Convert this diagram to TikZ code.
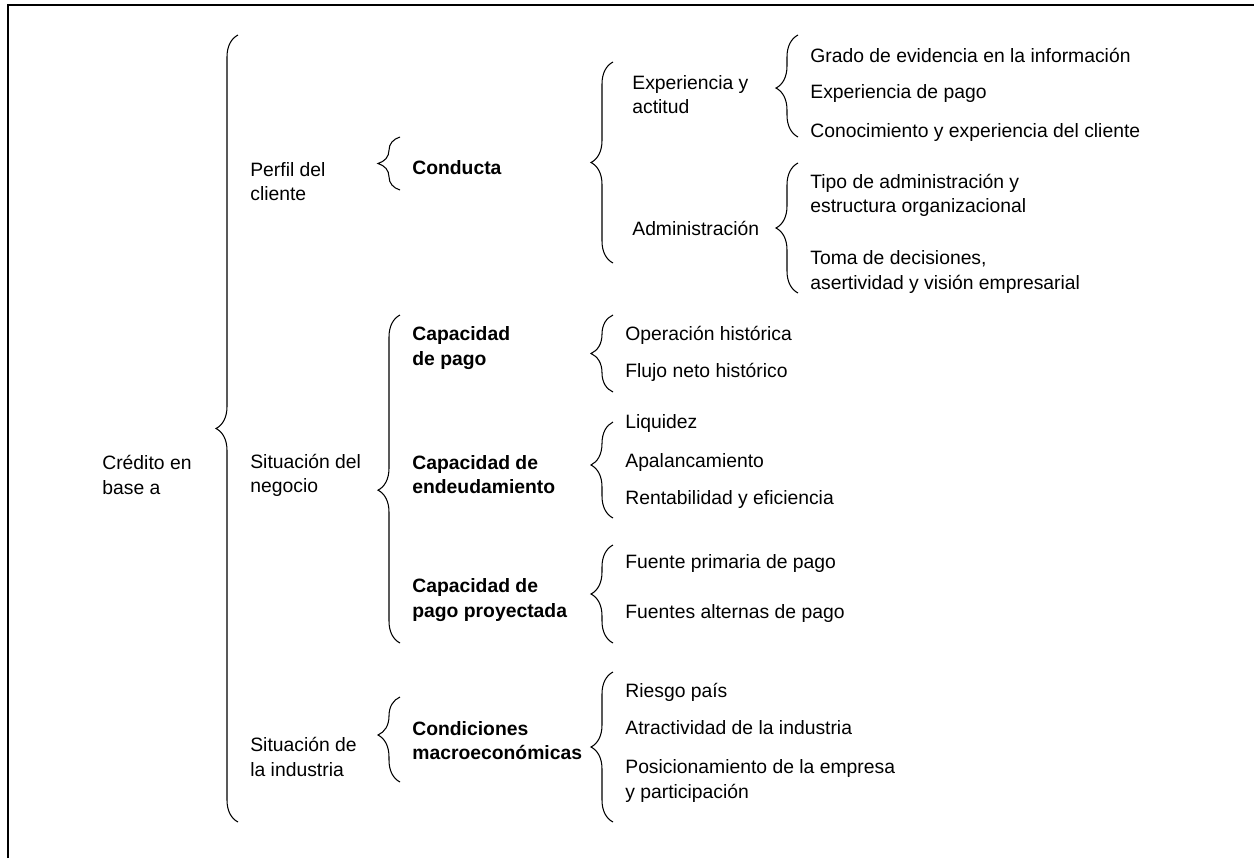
\documentclass[tikz,border=0pt]{standalone}
\usepackage{fontspec}
\setmainfont{Liberation Sans}
\usetikzlibrary{decorations.pathreplacing}

\begin{document}
\begin{tikzpicture}[
  x=0.2mm, y=-0.2mm,
  item/.style={anchor=west, align=left, inner sep=0pt, font=\fontsize{11}{13.7}\selectfont},
  keyitem/.style={item, font=\fontsize{11}{13.7}\selectfont\bfseries},
  bracket/.style={decorate, decoration={brace, amplitude=0.44cm, aspect=#1}, line width=0.6pt},
  bracket/.default=0.5,
  frame/.style={line width=1.7pt}
]

\useasboundingbox (0,0) rectangle (1254,858);

% open frame (top and left edge only)
\draw[frame] (8,858) -- (8,5) -- (1254,5);

% --- FIRST LEVEL ---
\node[item] (credito) at (102,475) {Crédito en\\base a};
\node[item] (perfil) at (250,182) {Perfil del\\cliente};
\node[item] (negocio) at (250,475) {Situación del\\negocio};
\node[item] (industria) at (250,757) {Situación de\\la industria};

% --- SECOND LEVEL (bold) ---
\node[keyitem] (conducta) at (412,168) {Conducta};
\node[keyitem] (cappago) at (412,348) {Capacidad\\de pago};
\node[keyitem] (capend) at (412,475) {Capacidad de\\endeudamiento};
\node[keyitem] (capproy) at (412,600) {Capacidad de\\pago proyectada};
\node[keyitem] (macro) at (412,741) {Condiciones\\macroeconómicas};

% --- THIRD LEVEL ---
\node[item] (expact) at (632,95) {Experiencia y\\actitud};
\node[item] (admin) at (632,228) {Administración};

\foreach \txt/\y [count=\i] in {Operación histórica/335, Flujo neto histórico/372} {
  \node[item] (pago\i) at (625,\y) {\txt};
}
\foreach \txt/\y [count=\i] in {Liquidez/423, Apalancamiento/462, Rentabilidad y eficiencia/499} {
  \node[item] (deuda\i) at (625,\y) {\txt};
}
\foreach \txt/\y [count=\i] in {Fuente primaria de pago/563, Fuentes alternas de pago/613} {
  \node[item] (fuente\i) at (625,\y) {\txt};
}
\node[item] (riesgo) at (625,692) {Riesgo país};
\node[item] (atract) at (625,728) {Atractividad de la industria};
\node[item] (posic) at (625,781) {Posicionamiento de la empresa\\y participación};

% --- FOURTH LEVEL ---
\foreach \txt/\y [count=\i] in {Grado de evidencia en la información/55, Experiencia de pago/93, Conocimiento y experiencia del cliente/132} {
  \node[item] (exp\i) at (810,\y) {\txt};
}
\node[item] (tipo) at (810,195) {Tipo de administración y\\estructura organizacional};
\node[item] (toma) at (810,272) {Toma de decisiones,\\asertividad y visión empresarial};

% braces: name/x/top/bottom/aspect
\foreach \nm/\x/\ya/\yb/\asp in {
  credito/238/35/822/0.5,
  perfil/400/137/190/0.5,
  negocio/400/315/643/0.466,
  industria/400/697/782/0.553,
  conducta/613/62/263/0.5,
  cappago/613/315/392/0.5,
  capend/613/422/518/0.552,
  capproy/613/545/643/0.5,
  macro/613/672/822/0.5,
  expact/798/35/137/0.48,
  admin/798/163/293/0.5} {
  \coordinate (\nm-top) at (\x,\ya);
  \coordinate (\nm-bot) at (\x,\yb);
  \draw[bracket=\asp] (\nm-bot) -- (\nm-top);
}

\end{tikzpicture}
\end{document}
